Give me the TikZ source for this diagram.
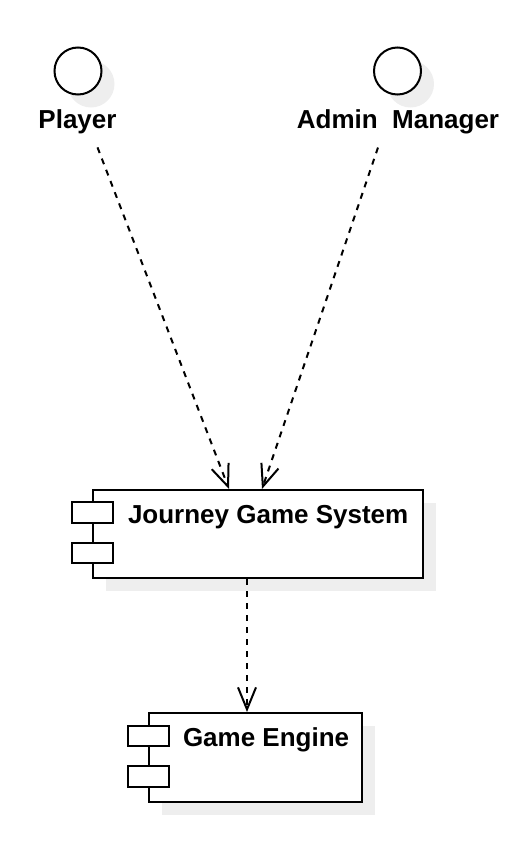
\documentclass[tikz,border=0pt]{standalone}
\usepackage{fontspec}
\setmainfont{Liberation Sans}
\usetikzlibrary{arrows.meta,calc,shadows}
\definecolor{shadowgrey}{HTML}{EEEEEE}

\begin{document}
\begin{tikzpicture}[x=1pt,y=-1pt,line width=2pt,
  every node/.style={font=\fontsize{26}{30}\selectfont\bfseries, inner sep=0pt},
  casing/.style={drop shadow={shadow xshift=13pt, shadow yshift=-13pt, fill=shadowgrey, opacity=1}},
  actor/.style={circle, draw, fill=white, minimum size=47pt, casing},
  component/.style={rectangle, draw, fill=white, casing},
  port/.style={rectangle, draw, fill=white, minimum width=41pt, minimum height=20.5pt},
  usage/.style={dash pattern=on 6pt off 6pt, -{Straight Barb[length=22pt,width=18pt]}}]
\useasboundingbox (0,0) rectangle (529,865);

% actors
\node[actor] (player) at (78,71) {};
\node[anchor=base] (playerlabel) at (77.5,128) {Player};
\node[actor] (admin) at (397.5,71) {};
\node[anchor=base] (adminlabel) at (398,128) {Admin\ \ Manager};

% components
\node[component, minimum width=330pt, minimum height=88pt] (jgs) at (258,534) {};
\node[port] (jgsporta) at ($(jgs.north west)+(0,23.5)$) {};
\node[port] (jgsportb) at ($(jgs.north west)+(0,64)$) {};
\node[anchor=base west] (jgslabel) at ($(jgs.north west)+(35,34)$) {Journey Game System};

\node[component, minimum width=213pt, minimum height=89pt] (ge) at (255.5,757.5) {};
\node[port] (geporta) at ($(ge.north west)+(0,24)$) {};
\node[port] (geportb) at ($(ge.north west)+(0,64.5)$) {};
\node[anchor=base west] (gelabel) at ($(ge.north west)+(34,34)$) {Game Engine};

% dependencies
\draw[usage] ($(playerlabel.south)+(20,13)$) -- ($(jgs.north)+(-29,0)$);
\draw[usage] ($(adminlabel.south)+(-20,13)$) -- ($(jgs.north)+(4,0)$);
\coordinate (jgsout) at ($(jgs.south)+(-11,0)$);
\draw[usage] (jgsout) -- (jgsout |- ge.north);
\end{tikzpicture}
\end{document}
